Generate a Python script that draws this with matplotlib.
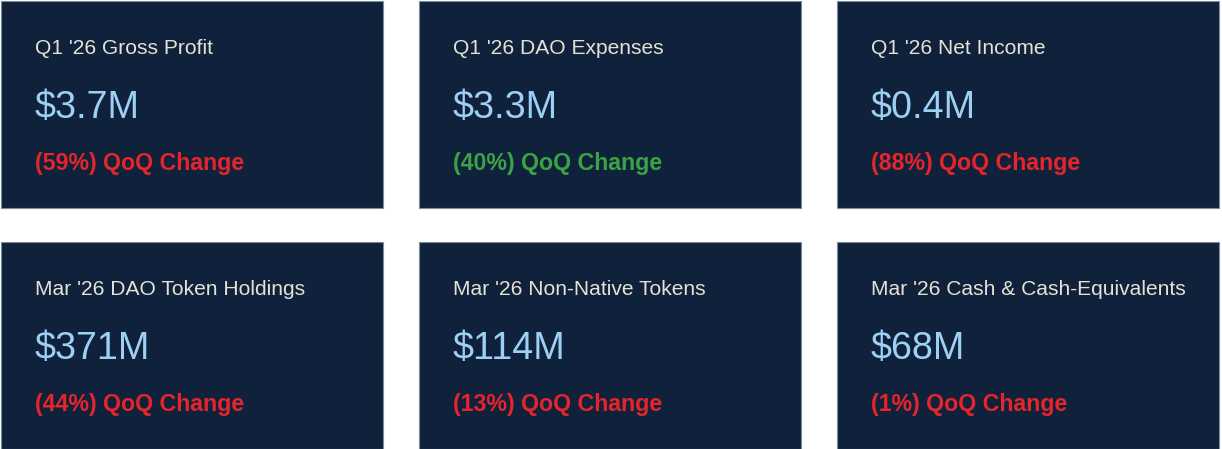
import matplotlib
matplotlib.use('Agg')
import matplotlib.pyplot as plt
from matplotlib.patches import Rectangle

titles = [
    "Q1 '26 Gross Profit", "Q1 '26 DAO Expenses", "Q1 '26 Net Income",
    "Mar '26 DAO Token Holdings", "Mar '26 Non-Native Tokens", "Mar '26 Cash & Cash-Equivalents"
]
values = ["$3.7M", "$3.3M", "$0.4M", "$371M", "$114M", "$68M"]
changes = ["(59%)", "(40%)", "(88%)", "(44%)", "(13%)", "(1%)"]
good = [False, True, False, False, False, False]

W, H = 1222, 449
fig = plt.figure(figsize=(W / 100, H / 100), dpi=100)
ax = fig.add_axes([0, 0, 1, 1])
ax.set_xlim(0, W)
ax.set_ylim(H, 0)
ax.axis('off')

card_x = [1, 419, 837]
card_y = [1, 242]
card_w, card_h = 382, 207
plt.rcParams['font.family'] = ['Liberation Sans', 'DejaVu Sans']

for i in range(len(titles)):
    x0 = card_x[i % 3]
    y0 = card_y[i // 3]
    ax.add_patch(Rectangle((x0, y0), card_w, card_h, facecolor='#10223b',
                           edgecolor='#7d8a9c', linewidth=0.8))
    tx = x0 + 34
    ax.text(tx, y0 + 53, titles[i], color='#e4e2d4', fontsize=15.1,
            va='baseline', ha='left')
    ax.text(tx, y0 + 117, values[i], color='#9dd0f5', fontsize=27.2,
            va='baseline', ha='left')
    ax.text(tx, y0 + 169, changes[i] + " QoQ Change",
            color='#3aa346' if good[i] else '#e5252a', fontsize=16.7,
            fontweight='bold', va='baseline', ha='left')

plt.savefig('out.png', dpi=100, facecolor='white')
